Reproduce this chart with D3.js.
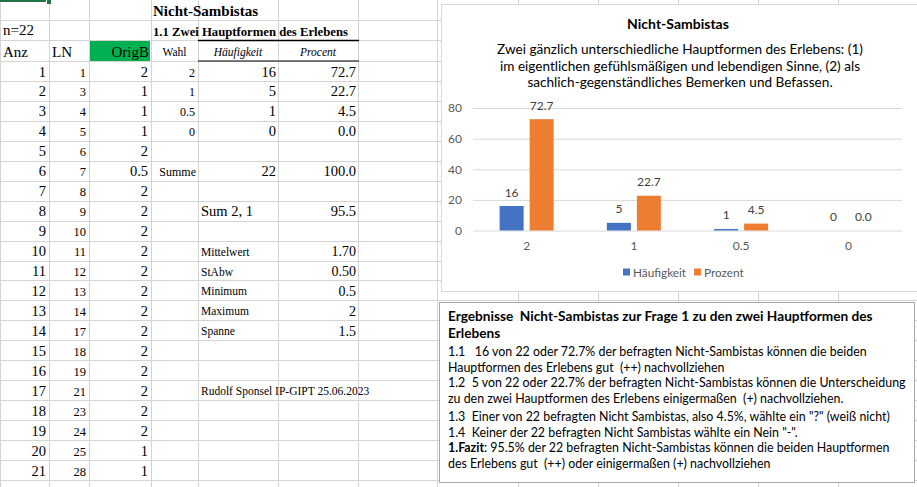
<!DOCTYPE html>
<html><head><meta charset="utf-8">
<script src="https://cdn.jsdelivr.net/npm/d3@7"></script>
<style>
html,body{margin:0;padding:0;background:#fff;overflow:hidden}
svg text{white-space:pre}
</style></head>
<body>
<svg id="c" width="917" height="487"></svg>
<script>
// ---------- data ----------
const categories = ["2", "1", "0.5", "0"];
const haeufigkeit = [16, 5, 1, 0];
const prozent = [72.7, 22.7, 4.5, 0.0];
const yTicks = [0, 20, 40, 60, 80];
const seriesNames = ["Häufigkeit", "Prozent"];

const anz = [1,2,3,4,5,6,7,8,9,10,11,12,13,14,15,16,17,18,19,20,21];
const ln = [1,3,4,5,6,7,8,9,10,11,12,13,14,17,18,19,21,23,24,25,28];
const origB = [2,1,1,1,2,0.5,2,2,2,2,2,2,2,2,2,2,2,2,2,1,1];
const wahl = [2,1,0.5,0];
const tabHaeuf = [16,5,1,0];
const tabProz = ["72.7","22.7","4.5","0.0"];
const statLabels = ["Mittelwert","StAbw","Minimum","Maximum","Spanne"];
const statValues = ["1.70","0.50","0.5","2","1.5"];

const chartTitle = "Nicht-Sambistas";
const chartSub = ["Zwei gänzlich unterschiedliche Hauptformen des Erlebens: (1)",
  "im eigentlichen gefühlsmäßigen und lebendigen Sinne, (2) als",
  "sachlich-gegenständliches Bemerken und Befassen."];

const boxHead = ["Ergebnisse  Nicht-Sambistas zur Frage 1 zu den zwei Hauptformen des", "Erlebens"];
const boxLines = [
  "1.1   16 von 22 oder 72.7% der befragten Nicht-Sambistas können die beiden",
  "Hauptformen des Erlebens gut  (++) nachvollziehen",
  "1.2  5 von 22 oder 22.7% der befragten Nicht-Sambistas können die Unterscheidung",
  "zu den zwei Hauptformen des Erlebens einigermaßen  (+) nachvollziehen.",
  "1.3  Einer von 22 befragten Nicht Sambistas, also 4.5%, wählte ein \"?\" (weiß nicht)",
  "1.4  Keiner der 22 befragten Nicht Sambistas wählte ein Nein \"-\".",
  "",
  "des Erlebens gut  (++) oder einigermaßen (+) nachvollziehen"];

// ---------- spreadsheet ----------
const svg = d3.select("#c");
const serif = "'Liberation Serif','Times New Roman',serif";
const colX = [0, 49, 89, 151, 198, 278, 358, 437, 518, 598, 678, 758, 838, 918];
const rowTop = 61, rowH = 19.95;
const rowY = i => rowTop + i * rowH; // top of data row i (0-based)
const hLines = [20, 40].concat(d3.range(0, 23).map(i => rowY(i)));
const grid = svg.append("g").attr("stroke", "#d4d4d4").attr("stroke-width", 1);
hLines.forEach(y => grid.append("line").attr("x1", 0).attr("x2", 917).attr("y1", Math.round(y) + 0.5).attr("y2", Math.round(y) + 0.5));
colX.forEach(x => grid.append("line").attr("x1", x + 0.5).attr("x2", x + 0.5).attr("y1", 0).attr("y2", 487));

// green header cell & selection marker
svg.append("rect").attr("x", 90).attr("y", 41).attr("width", 60).attr("height", 20).attr("fill", "#00b050");
svg.append("rect").attr("x", 0).attr("y", 0).attr("width", 46).attr("height", 2).attr("fill", "#217346");
svg.append("rect").attr("x", 47).attr("y", 0).attr("width", 4).attr("height", 4).attr("fill", "#217346");

const T = svg.append("g").attr("font-family", serif).attr("fill", "#000");
function txt(x, y, s, size, anchor, extra) {
  const t = T.append("text").attr("x", x).attr("y", y).attr("font-size", size).attr("text-anchor", anchor || "start").text(s);
  if (extra) Object.entries(extra).forEach(([k, v]) => t.attr(k, v));
  return t;
}
txt(153, 15.5, "Nicht-Sambistas", 15, "start", {"font-weight": "bold"});
txt(3, 35, "n=22", 15);
txt(153, 35.5, "1.1 Zwei Hauptformen des Erlebens", 12.7, "start", {"font-weight": "bold"});
txt(3, 57, "Anz", 15);
txt(52, 57, "LN", 15);
txt(149, 57, "OrigB", 15, "end");
txt(174.5, 56, "Wahl", 11.5, "middle");
txt(238, 56, "Häufigkeit", 11.5, "middle", {"font-style": "italic"});
txt(318, 56, "Procent", 11.5, "middle", {"font-style": "italic"});
// black rules
svg.append("line").attr("x1", 198).attr("x2", 359).attr("y1", 40.5).attr("y2", 40.5).attr("stroke", "#000").attr("stroke-width", 1.6);
svg.append("line").attr("x1", 198).attr("x2", 359).attr("y1", 61).attr("y2", 61).attr("stroke", "#000").attr("stroke-width", 1.2);

anz.forEach((v, i) => {
  const b = rowY(i) + 15.5;
  txt(46, b, v, 14.5, "end");
  txt(86, b, ln[i], 12.5, "end");
  txt(148, b, origB[i], 14.5, "end");
});
wahl.forEach((v, i) => {
  const b = rowY(i) + 15.5;
  txt(195, b, v, 12, "end");
  txt(276, b, tabHaeuf[i], 14.5, "end");
  txt(356, b, tabProz[i], 14.5, "end");
});
txt(196, rowY(5) + 15.5, "Summe", 12, "end");
txt(276, rowY(5) + 15.5, "22", 14.5, "end");
txt(356, rowY(5) + 15.5, "100.0", 14.5, "end");
txt(201, rowY(7) + 15.5, "Sum 2, 1", 14.5);
txt(356, rowY(7) + 15.5, "95.5", 14.5, "end");
statLabels.forEach((s, i) => {
  txt(201, rowY(9 + i) + 15, s, 11.5);
  txt(356, rowY(9 + i) + 15.5, statValues[i], 14, "end");
});
txt(201, rowY(16) + 15, "Rudolf Sponsel IP-GIPT 25.06.2023", 11.5);

// ---------- chart ----------
const sans = "Lato, 'Open Sans', sans-serif";
svg.append("rect").attr("x", 441.5).attr("y", 4.5).attr("width", 490).attr("height", 287).attr("fill", "#fff").attr("stroke", "#d9d9d9");
const C = svg.append("g").attr("font-family", sans);
C.append("text").attr("x", 678).attr("y", 28.5).attr("text-anchor", "middle").attr("font-size", 14).attr("font-weight", "bold").attr("fill", "#000").text(chartTitle);
const subY = [54, 70.5, 87];
chartSub.forEach((s, i) => C.append("text").attr("x", 680).attr("y", subY[i]).attr("text-anchor", "middle").attr("font-size", 13.6).attr("fill", "#000").text(s));

const x = d3.scaleBand().domain(categories).range([473, 902]);
const y = d3.scaleLinear().domain([0, 80]).range([230.5, 108]);
const barW = 24, gap = 6;

const gy = C.append("g").attr("transform", "translate(473,0)")
  .call(d3.axisLeft(y).tickValues(yTicks).tickSize(-429).tickPadding(11).tickFormat(d3.format("d")));
gy.select(".domain").remove();
gy.selectAll(".tick line").attr("stroke", "#d9d9d9");
gy.selectAll(".tick text").attr("fill", "#595959").attr("font-size", 12).attr("font-family", sans);

const gx = C.append("g").attr("transform", "translate(0,230.5)")
  .call(d3.axisBottom(x).tickSize(0).tickPadding(11));
gx.select(".domain").remove();
gx.selectAll(".tick text").attr("fill", "#595959").attr("font-size", 12).attr("font-family", sans);

const colors = ["#4472c4", "#ed7d31"];
const series = [haeufigkeit, prozent];
const fmts = [d3.format("d"), d3.format(".1f")];
series.forEach((vals, si) => {
  const bx = c => x(c) + x.bandwidth() / 2 + (si === 0 ? -gap / 2 - barW : gap / 2);
  C.append("g").selectAll("rect").data(categories).join("rect")
    .attr("x", c => bx(c)).attr("width", barW)
    .attr("y", (c, i) => y(vals[i])).attr("height", (c, i) => y(0) - y(vals[i]))
    .attr("fill", colors[si]);
  C.append("g").selectAll("text").data(categories).join("text")
    .attr("x", c => bx(c) + barW / 2).attr("y", (c, i) => y(vals[i]) - 9.5)
    .attr("text-anchor", "middle").attr("font-size", 12).attr("fill", "#404040")
    .text((c, i) => fmts[si](vals[i]));
});
// legend
const legX = [623, 694];
seriesNames.forEach((n, i) => {
  C.append("rect").attr("x", legX[i]).attr("y", 268.5).attr("width", 7).attr("height", 7).attr("fill", colors[i]);
  C.append("text").attr("x", legX[i] + 10).attr("y", 276.5).attr("font-size", 11.8).attr("fill", "#595959").text(n);
});

// ---------- text box ----------
svg.append("rect").attr("x", 439.5).attr("y", 302.5).attr("width", 475).attr("height", 180).attr("fill", "#fff").attr("stroke", "#a6a6a6");
const B = svg.append("g").attr("font-family", sans).attr("fill", "#000");
const headY = [320.7, 338];
boxHead.forEach((s, i) => B.append("text").attr("x", 448).attr("y", headY[i]).attr("font-size", 13.65).attr("font-weight", "bold").text(s));
const lineY = [356, 371.7, 387, 402.7, 421, 436.7, 452, 467.7];
const bodySize = 12.4;
boxLines.forEach((s, i) => {
  if (i === 6) {
    const t = B.append("text").attr("x", 448).attr("y", lineY[i]).attr("font-size", bodySize);
    t.append("tspan").attr("font-weight", "bold").text("1.Fazit");
    t.append("tspan").text(": 95.5% der 22 befragten Nicht-Sambistas können die beiden Hauptformen");
  } else {
    B.append("text").attr("x", 448).attr("y", lineY[i]).attr("font-size", bodySize).text(s);
  }
});
</script>
</body></html>
